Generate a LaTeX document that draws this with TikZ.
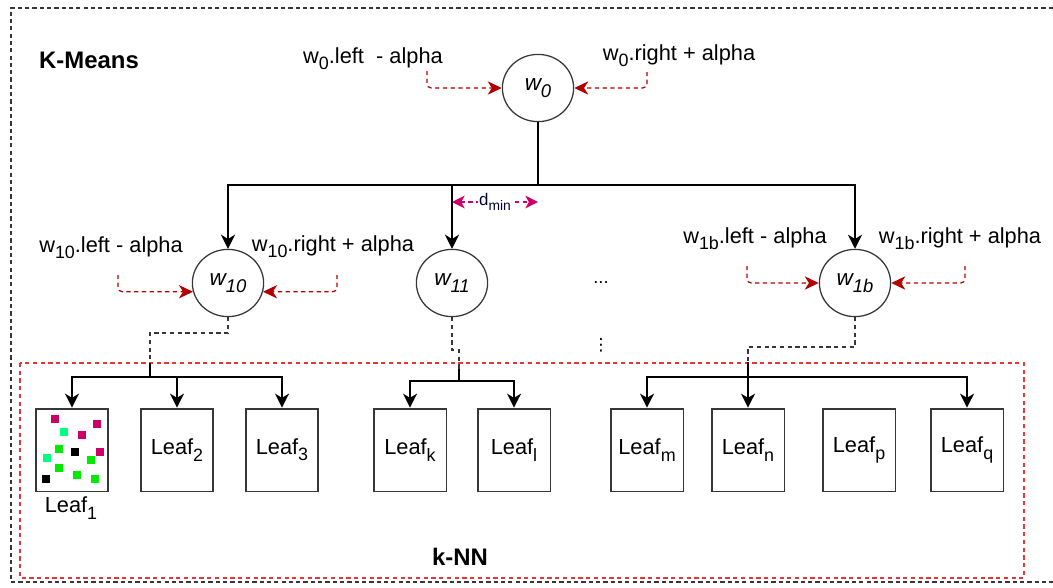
\documentclass[tikz,border=0pt]{standalone}
\usepackage{fontspec}
\usepackage{graphicx}
\setmainfont{Liberation Sans}
\newfontfamily\symbfont{DejaVu Sans}
\usetikzlibrary{arrows.meta, positioning, shapes.geometric}
\definecolor{KMRed}{RGB}{178,0,0}
\definecolor{KMBox}{RGB}{232,52,52}
\definecolor{KMPink}{RGB}{204,0,102}
\definecolor{KMMint}{RGB}{0,255,128}
\definecolor{KMGreen}{RGB}{0,235,0}
\definecolor{KMGray}{RGB}{55,55,55}
\newcommand{\lsub}[1]{\raisebox{-0.55ex}{\scalebox{0.82}{#1}}}
\tikzset{
  centroid/.style={ellipse, draw=KMGray, line width=0.9pt, minimum width=1.78cm,
    minimum height=1.68cm, inner sep=0pt, font=\fontsize{16}{18}\selectfont\itshape},
  leaf/.style={rectangle, draw=KMGray, line width=1.3pt, minimum width=1.82cm,
    minimum height=2.07cm, inner sep=0pt, font=\fontsize{15.5}{18}\selectfont},
  lbl/.style={inner sep=0pt, font=\fontsize{15.5}{18}\selectfont},
  title/.style={inner sep=0pt, font=\fontsize{17}{20}\selectfont\bfseries},
  tree/.style={-{Stealth[length=10pt, width=10pt, inset=3pt]}, line width=1pt},
  bound/.style={-{Stealth[length=10pt, width=9.5pt, inset=3pt]}, KMRed, line width=0.9pt,
    dash pattern=on 3pt off 2.5pt, rounded corners=3pt},
  dmin/.style={{Stealth[length=9pt, width=9pt, inset=2.5pt]}-{Stealth[length=9pt, width=9pt, inset=2.5pt]},
    KMPink, line width=0.9pt, dash pattern=on 3pt off 2.5pt},
  link/.style={KMGray, line width=1pt, dash pattern=on 3pt off 2.5pt},
  outer/.style={KMGray, line width=0.9pt, dash pattern=on 3pt off 2.2pt},
  knnbox/.style={KMBox, line width=0.9pt, dash pattern=on 3pt off 2.5pt}
}
\begin{document}
\begin{tikzpicture}[x=0.025cm, y=-0.025cm]
  \useasboundingbox (0,0) rectangle (1053,587);
  \draw[outer] (1053,8) -- (11,8) -- (11,582) -- (1053,582);
  \draw[knnbox] (20,363) rectangle (1024,578);

  \node[title] (kmeans) at (89,60) {K-Means};
  \node[title] (knn) at (460,557) {k-NN};

  \node[centroid] (w0) at (538,88) {w\lsub{0}};
  \node[centroid] (w10) at (228,283) {w\lsub{10}};
  \node[centroid] (w11) at (452,283) {w\lsub{11}};
  \node[centroid] (w1b) at (855,283) {w\lsub{1b}};

  \node[lbl] (l0l) at (373,59) {w\lsub{0}.left\ \ - alpha};
  \node[lbl] (l0r) at (679,56) {w\lsub{0}.right + alpha};
  \node[lbl] (l10l) at (111,248) {w\lsub{10}.left - alpha};
  \node[lbl] (l10r) at (333,247) {w\lsub{10}.right + alpha};
  \node[lbl] (l1bl) at (755,239) {w\lsub{1b}.left - alpha};
  \node[lbl] (l1br) at (960,239) {w\lsub{1b}.right + alpha};

  \node[inner sep=0pt, font=\fontsize{13}{15}\selectfont] (hdots) at (601,283) {...};
  \node[inner sep=0pt, font=\fontsize{12}{14}\symbfont] (vdots) at (601,345) {⋮};

  \coordinate (a0l) at (427,71);
  \coordinate (a0r) at (647,72);
  \coordinate (a10l) at (118,275);
  \coordinate (a10r) at (337,275);
  \coordinate (a1bl) at (747,266);
  \coordinate (a1br) at (965,266);
  \draw[bound] (a0l) |- (w0.west);
  \draw[bound] (a0r) |- (w0.east);
  \draw[bound] (a10l) |- (w10.194);
  \draw[bound] (a10r) |- (w10.346);
  \draw[bound] (a1bl) |- (w1b.west);
  \draw[bound] (a1br) |- (w1b.east);

  \coordinate (t0) at (538,185);
  \draw[line width=1pt] (w0.south) -- (t0);
  \draw[tree] (t0) -| (w10.north);
  \draw[tree] (t0) -| (w1b.north);
  \draw[tree] (w11.north |- t0) -- (w11.north);

  \coordinate (d1) at (452,202);
  \coordinate (d2) at (538,202);
  \draw[dmin] (d1) -- (d2) node[midway, fill=white, inner xsep=1pt, inner ysep=0pt,
    text=black!80!blue, font=\fontsize{12}{14}\selectfont] {d\lsub{min}};

  \node[leaf] (leaf1) at (72,450) {};
  \node[leaf] (leaf2) at (177,450) {Leaf\lsub{2}};
  \node[leaf] (leaf3) at (282,450) {Leaf\lsub{3}};
  \node[leaf] (leafk) at (410,450) {Leaf\lsub{k}};
  \node[leaf] (leafl) at (514,450) {Leaf\lsub{l}};
  \node[leaf] (leafm) at (647,450) {Leaf\lsub{m}};
  \node[leaf] (leafn) at (748,450) {Leaf\lsub{n}};
  \node[leaf] (leafp) at (859,450) {Leaf\lsub{p}};
  \node[leaf] (leafq) at (967,450) {Leaf\lsub{q}};
  \node[lbl] (leaf1lbl) at (71,508) {Leaf\lsub{1}};

  \foreach \px/\py/\pc in {55/419/KMPink, 97/424/KMPink, 64/432/KMMint, 82/435/KMPink,
      59/449/KMGreen, 75/452/black, 100/452/KMPink, 47/458/KMMint, 91/460/KMGreen,
      59/468/KMGreen, 77/475/KMGreen, 46/479/black, 95/479/KMGreen}
    \fill[\pc] (\px-4,\py-4) rectangle ++(8,8);

  \coordinate (k1) at (150,333);
  \coordinate (j1) at (150,377);
  \draw[link] (w10.south) |- (k1) -- (j1);
  \draw[line width=1.6pt] (j1) -- ++(0,-14);
  \draw[tree] (j1) -| (leaf1.north);
  \draw[tree] (j1) -| (leaf3.north);
  \draw[tree] (leaf2.north |- j1) -- (leaf2.north);

  \coordinate (k2) at (452,350);
  \coordinate (j2) at (459,381);
  \draw[link] (w11.south) -- (k2) -| (j2);
  \draw[line width=1pt] (j2) -- ++(0,-12);
  \draw[tree] (j2) -| (leafk.north);
  \draw[tree] (j2) -| (leafl.north);

  \coordinate (k3) at (748,347);
  \coordinate (j3) at (748,377);
  \draw[link] (w1b.south) |- (k3) -- (j3);
  \draw[line width=1pt] (j3) -- ++(0,-15);
  \draw[tree] (j3) -| (leafm.north);
  \draw[tree] (j3) -| (leafq.north);
  \draw[tree] (j3) -- (leafn.north);
\end{tikzpicture}
\end{document}
